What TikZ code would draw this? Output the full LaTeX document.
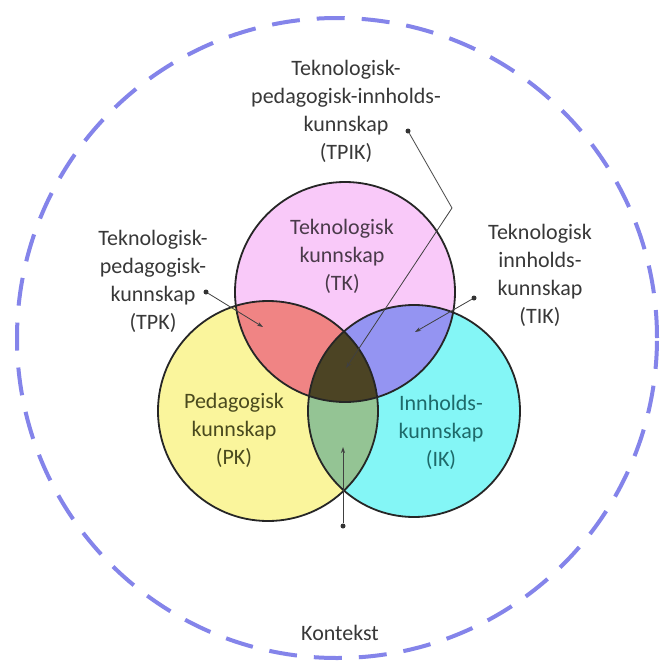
\documentclass[tikz,border=0pt]{standalone}
\usepackage{fontspec}
\setmainfont{Carlito}
\usetikzlibrary{arrows.meta}
\definecolor{tkfill}{HTML}{F9C9F9}
\definecolor{pkfill}{HTML}{FAF59C}
\definecolor{ikfill}{HTML}{84F6F6}
\definecolor{tpkfill}{HTML}{F08484}
\definecolor{tikfill}{HTML}{9494F2}
\definecolor{pikfill}{HTML}{94C494}
\definecolor{tpikfill}{HTML}{4C4424}
\definecolor{ctxcol}{HTML}{8484EA}
\definecolor{labcol}{HTML}{383838}
\definecolor{tkcol}{HTML}{4A3A4A}
\definecolor{pkcol}{HTML}{4A4A1E}
\definecolor{ikcol}{HTML}{1E6A6A}
\begin{document}
\begin{tikzpicture}[x=1pt,y=-1pt,
  lab/.style={align=center,font=\fontsize{22}{28}\selectfont,text=labcol,inner sep=0pt},
  ring/.style={draw=black!85,line width=1.8pt},
  pin/.style={circle,fill=black!80,inner sep=0pt,minimum size=5pt},
  lead/.style={draw=black!75,line width=0.8pt,-{Stealth[length=6pt,width=4pt]}}]
\useasboundingbox (0,0) rectangle (662,664);
\fill[white] (0,0) rectangle (662,664);
% context
\node[circle,draw=ctxcol,line width=4pt,dash pattern=on 28pt off 17pt,minimum size=640pt,inner sep=0pt] (ctx) at (337,338) {};
\node[lab] (kontekst) at (340,633) {Kontekst};
% circle centres
\coordinate (cT) at (345,292);
\coordinate (cP) at (268,411);
\coordinate (cI) at (414,411);
% fills
\fill[tkfill] (cT) circle (110pt);
\fill[pkfill] (cP) circle (110pt);
\fill[ikfill] (cI) circle (106pt);
\begin{scope}
  \clip (cT) circle (110pt);
  \fill[tpkfill] (cP) circle (110pt);
  \fill[tikfill] (cI) circle (106pt);
\end{scope}
\begin{scope}
  \clip (cP) circle (110pt);
  \fill[pikfill] (cI) circle (106pt);
  \clip (cT) circle (110pt);
  \fill[tpikfill] (cI) circle (106pt);
\end{scope}
% outlines
\node[circle,ring,minimum size=220pt,inner sep=0pt] (TK) at (cT) {};
\node[circle,ring,minimum size=220pt,inner sep=0pt] (PK) at (cP) {};
\node[circle,ring,minimum size=212pt,inner sep=0pt] (IK) at (cI) {};
% circle texts
\node[lab,text=tkcol] (tktext) at (342,256) {Teknologisk\\kunnskap\\(TK)};
\node[lab,text=pkcol] (pktext) at (234,430) {Pedagogisk\\kunnskap\\(PK)};
\node[lab,text=ikcol] (iktext) at (441,432) {Innholds-\\kunnskap\\(IK)};
% outer labels
\node[lab] (tpik) at (346,111) {Teknologisk-\\pedagogisk-innholds-\\kunnskap\\(TPIK)};
\node[lab] (tpk) at (153,281) {Teknologisk-\\pedagogisk-\\kunnskap\\(TPK)};
\node[lab] (tik) at (540,275) {Teknologisk\\innholds-\\kunnskap\\(TIK)};
% pins and leaders
\node[pin] (ptpik) at (408,131) {};
\coordinate (bend) at (452,208);
\coordinate (atpik) at (346,368);
\draw[lead] (ptpik) -- (bend) -- (atpik);
\node[pin] (ptpk) at (206,292) {};
\coordinate (atpk) at (263,327);
\draw[lead] (ptpk) -- (atpk);
\node[pin] (ptik) at (474,298) {};
\coordinate (atik) at (415,332);
\draw[lead] (ptik) -- (atik);
\node[pin] (ppik) at (343,526) {};
\coordinate (apik) at (343,447);
\draw[lead] (ppik) -- (apik);
\end{tikzpicture}
\end{document}
